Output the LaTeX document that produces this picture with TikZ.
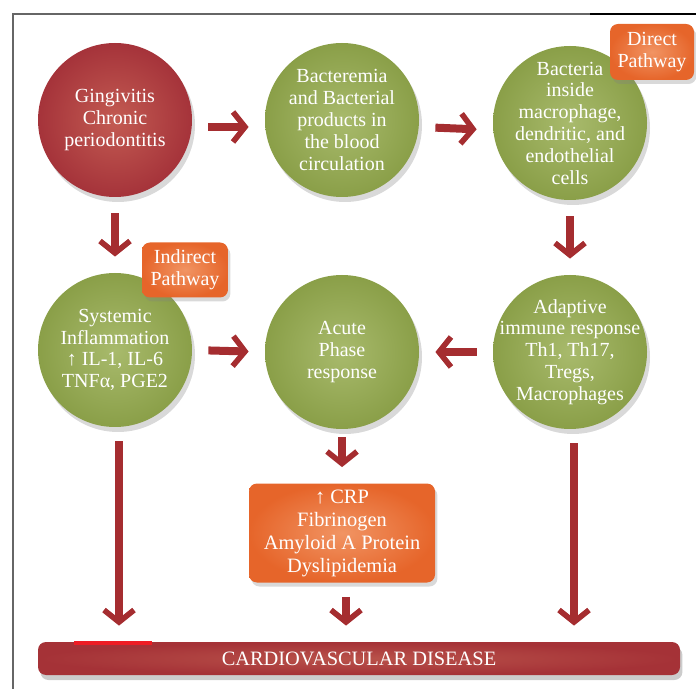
\documentclass[tikz,border=0pt]{standalone}
\usepackage{fontspec}
\setmainfont{Liberation Serif}
\usepackage{xcolor}
\usetikzlibrary{positioning,arrows.meta,shadows}

\definecolor{gumred}{HTML}{A5333A}
\definecolor{gumredlight}{HTML}{C35B52}
\definecolor{leafgreen}{HTML}{8A9F48}
\definecolor{leafgreenlight}{HTML}{A8BA6C}
\definecolor{pathorange}{HTML}{E6652A}
\definecolor{pathorangelight}{HTML}{F19463}
\definecolor{arrowred}{HTML}{A52D30}
\definecolor{barred}{HTML}{A53237}
\definecolor{barredlight}{HTML}{B9524A}
\definecolor{glitchred}{HTML}{EE1C24}

\begin{document}
\begin{tikzpicture}[x=0.5pt, y=-0.5pt,
    stage/.style={circle, minimum size=77pt, inner sep=-10pt, align=center, text=white,
        font=\fontsize{10}{10.9}\selectfont,
        drop shadow={shadow xshift=1.5pt, shadow yshift=-2.5pt, opacity=0.3}},
    redstage/.style={stage, inner color=gumredlight, outer color=gumred},
    greenstage/.style={stage, inner color=leafgreenlight, outer color=leafgreen},
    tagbox/.style={rectangle, rounded corners=4pt, align=center, text=white, inner sep=2pt,
        inner color=pathorangelight, outer color=pathorange,
        font=\fontsize{10}{10.9}\selectfont,
        drop shadow={shadow xshift=1.2pt, shadow yshift=-2pt, opacity=0.3}},
    flow/.style={draw=arrowred, line width=4pt,
        -{Straight Barb[length=6pt, width=15pt, line width=2.8pt, line cap=butt, line join=miter]},
        shorten <=8pt, shorten >=8pt}]
    \useasboundingbox (0,0) rectangle (696,689);
    \draw[black!60, line width=0.8pt] (13,689) -- (13,14) -- (590,14);
    \draw[black, line width=0.8pt] (590,14) -- (696,14);

    % stages
    \node[redstage] (gum) at (115,120) {Gingivitis\\Chronic\\periodontitis};
    \node[greenstage] (blood) at (342,120) {Bacteremia\\and Bacterial\\products in\\the blood\\circulation};
    \node[greenstage] (cells) at (570,123) {Bacteria\\inside\\macrophage,\\dendritic, and\\endothelial\\cells};
    \node[greenstage] (systemic) at (115,350) {Systemic\\Inflammation\\↑ IL-1, IL-6\\TNFα, PGE2};
    \node[greenstage] (acute) at (342,352) {Acute\\Phase\\response};
    \node[greenstage] (adaptive) at (570,352) {Adaptive\\immune response\\Th1, Th17,\\Tregs,\\Macrophages};

    % tags
    \node[tagbox, minimum width=42pt, minimum height=28pt] (direct) at (652,52) {Direct\\Pathway};
    \node[tagbox, minimum width=43pt, minimum height=27.5pt] (indirect) at (185,270) {Indirect\\Pathway};
    \node[tagbox, minimum width=93pt, minimum height=49.5pt, font=\fontsize{10.2}{11.5}\selectfont] (crp) at (342,533) {↑ CRP\\Fibrinogen\\Amyloid A Protein\\Dyslipidemia};

    % disease bar
    \node[rectangle, rounded corners=4pt, minimum width=321pt, minimum height=16.5pt, inner sep=0pt,
        inner color=barredlight, outer color=barred, text=white, font=\fontsize{10.2}{12}\selectfont,
        drop shadow={shadow xshift=1.2pt, shadow yshift=-2.5pt, opacity=0.4}] (cvd) at (359,658.5) {CARDIOVASCULAR DISEASE};
    \fill[glitchred] (74,641) rectangle (152,645);

    % arrows
    \draw[flow] ([yshift=-3.5pt]gum.east) -- ([yshift=-3.5pt]blood.west);
    \draw[flow] ([yshift=-3.5pt]blood.east) -- ([yshift=-3.5pt]cells.west);
    \draw[flow] (gum.south) -- (systemic.north);
    \draw[flow] (cells.south) -- (adaptive.north);
    \draw[flow] (systemic.east) -- (acute.west);
    \draw[flow] (adaptive.west) -- (acute.east);
    \draw[flow, shorten <=4pt] (acute.south) -- (crp.north);
    \foreach \src in {systemic, crp, adaptive} {
        \draw[flow, shorten <=7pt] ([xshift=2pt]\src.south) -- ([xshift=2pt]\src.south |- cvd.north);
    }
\end{tikzpicture}
\end{document}
